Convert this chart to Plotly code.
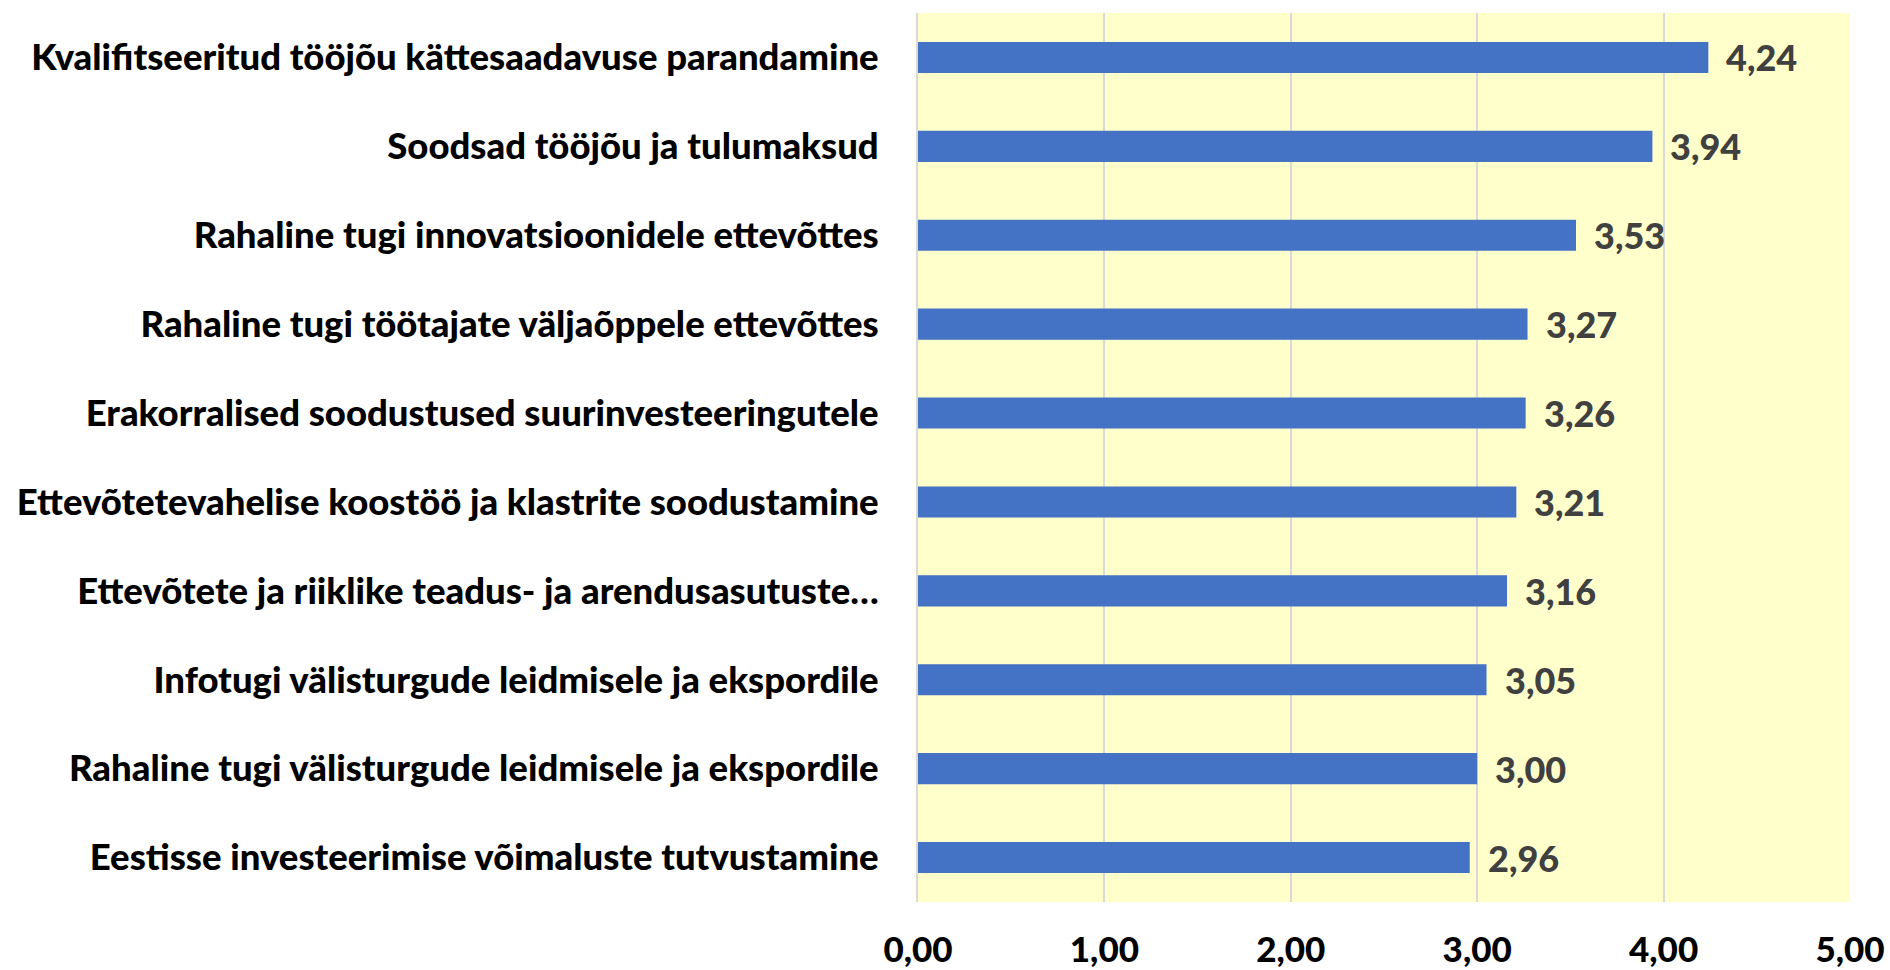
import plotly.graph_objects as go

categories = [
    "Kvalifitseeritud tööjõu kättesaadavuse parandamine",
    "Soodsad tööjõu ja tulumaksud",
    "Rahaline tugi innovatsioonidele ettevõttes",
    "Rahaline tugi töötajate väljaõppele ettevõttes",
    "Erakorralised soodustused suurinvesteeringutele",
    "Ettevõtetevahelise koostöö ja klastrite soodustamine",
    "Ettevõtete ja riiklike teadus- ja arendusasutuste…",
    "Infotugi välisturgude leidmisele ja ekspordile",
    "Rahaline tugi välisturgude leidmisele ja ekspordile",
    "Eestisse investeerimise võimaluste tutvustamine",
]
values = [4.24, 3.94, 3.53, 3.27, 3.26, 3.21, 3.16, 3.05, 3.00, 2.96]
x_ticks = [0, 1, 2, 3, 4, 5]

FONT = "Lato"

fig = go.Figure()
fig.add_trace(go.Bar(
    y=categories,
    x=values,
    orientation="h",
    width=0.35,
    marker=dict(color="#4472C4", line=dict(color="#4472C4", width=0)),
    hoverinfo="skip",
))

for c, v in zip(categories, values):
    fig.add_annotation(
        x=v, y=c, xref="x", yref="y",
        text=f"{v:.2f}".replace(".", ","),
        showarrow=False, xanchor="left", yanchor="middle",
        xshift=16,
        font=dict(family=FONT, size=36, color="#404040", weight=900),
    )

fig.update_layout(
    width=1890, height=970,
    margin=dict(l=918, r=40, t=13, b=68, pad=0, autoexpand=False),
    paper_bgcolor="white",
    plot_bgcolor="#FFFFCC",
    showlegend=False,
    separators=",.",
    bargap=0.65,
)
fig.update_xaxes(
    range=[0, 5],
    tickvals=x_ticks,
    tickformat=".2f",
    showgrid=True, gridcolor="#D9D9D9", gridwidth=2,
    zeroline=False,
    showline=False,
    ticks="",
    automargin=False,
    ticklabelstandoff=24,
    tickfont=dict(family=FONT, size=35, color="black", weight=900),
)
fig.update_yaxes(
    autorange="reversed",
    showgrid=False,
    showline=True, linecolor="#D9D9D9", linewidth=2,
    ticks="",
    automargin=False,
    ticklabelstandoff=30,
    tickfont=dict(family=FONT, size=36.5, color="black", weight=900),
)

fig.write_html(
    "out.html",
    config={"displayModeBar": False},
    post_script="document.body.style.margin='0';document.body.style.overflow='hidden';",
)
